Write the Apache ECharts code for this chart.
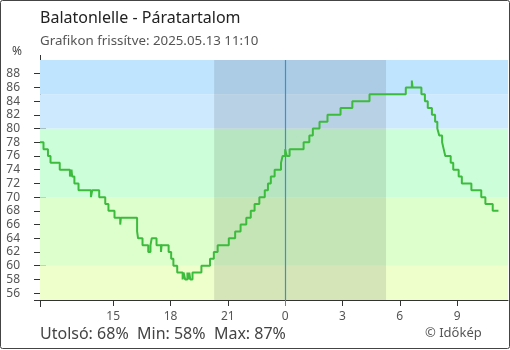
<!DOCTYPE html>
<html><head><meta charset="utf-8">
<script src="https://cdn.jsdelivr.net/npm/echarts@6/dist/echarts.min.js"></script>
<style>html,body{margin:0;padding:0;background:#fff}#c{width:510px;height:350px}</style>
</head><body><div id="c"></div>
<script>
// ---- data ----
const stationTitle = 'Balatonlelle - Páratartalom';
const updated = 'Grafikon frissítve: 2025.05.13 11:10';
const times = ['11:10','11:21','11:35','11:43','12:12','12:44','12:49','12:51','12:58','13:11',
  '13:50','13:54','14:16','14:35','14:45','15:04','15:22','15:24','16:15','16:18',
  '16:32','16:50','16:57','17:01','17:16','17:30','17:32','17:54','18:02','18:09',
  '18:21','18:38','18:41','18:46','18:53','18:56','18:59','19:02','19:09','19:37',
  '20:04','20:16','20:28','21:03','21:23','21:40','21:58','22:12','22:24','22:39',
  '22:56','23:06','23:15','23:27','23:47','23:52','0:00','0:05','0:14','0:58',
  '1:16','1:27','1:48','2:13','2:54','3:31','4:25','6:19','6:38','6:40',
  '7:08','7:19','7:28','7:41','7:51','7:58','8:04','8:13','8:18','8:23',
  '8:40','8:48','9:05','9:15','9:45','10:16','10:29','10:52','11:10'];
const values = [78,77,76,75,74,73,74,73,72,71,
  70,71,70,69,68,67,66,67,65,64,
  63,62,63,64,63,62,63,62,61,60,
  59,58,59,58,59,58,59,58,59,60,
  61,62,63,64,65,66,67,68,69,70,
  71,72,73,74,75,76,77,76,77,78,
  79,80,81,82,83,84,85,86,87,86,
  85,84,83,82,81,80,79,78,77,76,
  75,74,73,72,71,70,69,68,68];
const yTickValues = [56,58,60,62,64,66,68,70,72,74,76,78,80,82,84,86,88];
const xTickTimes = ['15:00','18:00','21:00','0:00','3:00','6:00','9:00'];
const bandLimits = [[55,60],[60,70],[70,80],[80,85],[85,90]];
const bandColors = ['#eeffcc','#ddffcc','#ccffd9','#cde9fe','#bfe4fe'];
const nightFrom = '20:17', nightTo = '5:17';
const nowTime = '0:00';
const axisStart = '11:10', axisEnd = '11:40';

// ---- helpers ----
function toMin(s){const [h,m]=s.split(':').map(Number);return h*60+m;}
function timeline(list){let out=[],prev=-1,off=0;for(const s of list){let m=toMin(s)+off;if(m<prev){off+=1440;m+=1440;}out.push(m);prev=m;}return out;}
const xs = timeline(times);
const data = xs.map((x,i)=>[x,values[i]]);
const xMin = toMin(axisStart), xMax = toMin(axisEnd)+1440;
const xTicks = timeline([axisStart].concat(xTickTimes)).slice(1);
const nowX = toMin(nowTime)+1440;
const nightX = [toMin(nightFrom), toMin(nightTo)+1440];
const lastV = values[values.length-1], minV = Math.min(...values), maxV = Math.max(...values);
const font = 'Noto Sans';
const fmt = v => String(Math.floor(((v%1440)+1440)%1440/60));

const chart = echarts.init(document.getElementById('c'), null, {renderer:'canvas'});
chart.setOption({
  animation:false,
  textStyle:{fontFamily:font},
  title:[
    {text:stationTitle,left:40,top:10,padding:0,textStyle:{fontFamily:font,fontSize:16,fontWeight:'normal',color:'#222'}},
    {text:updated,left:40,top:35,padding:0,textStyle:{fontFamily:font,fontSize:13.3,fontWeight:'normal',color:'#555'}},
    {text:'%',left:12,top:46,padding:0,textStyle:{fontFamily:font,fontSize:12,fontWeight:'normal',color:'#444'}},
    {text:'Utolsó: '+lastV+'%  Min: '+minV+'%  Max: '+maxV+'%',left:40,top:326,padding:0,textStyle:{fontFamily:font,fontSize:16,fontWeight:'normal',color:'#444'}},
    {text:'© Időkép',left:425,top:327,padding:0,textStyle:{fontFamily:font,fontSize:13,fontWeight:'normal',color:'#555'}}
  ],
  grid:{left:40,right:2,top:60,bottom:50},
  xAxis:[
    {type:'value',min:xMin,max:xMax,splitLine:{show:false},
      axisLine:{show:true,lineStyle:{color:'#333',width:1}},
      axisTick:{show:true,length:6,customValues:xTicks.filter(v=>v!==nowX),lineStyle:{color:'#333'}},
      axisLabel:{customValues:xTicks,formatter:fmt,color:'#555',fontSize:12,margin:11,fontFamily:font}},
    {type:'value',min:xMin,max:xMax,position:'bottom',splitLine:{show:false},axisLine:{show:false},
      axisTick:{show:true,inside:true,length:6,customValues:xTicks.filter(v=>v!==nowX),lineStyle:{color:'#333'}},
      axisLabel:{show:false}},
    {type:'value',min:xMin,max:xMax,position:'bottom',splitLine:{show:false},axisLine:{show:false},
      axisTick:{show:true,length:6,customValues:[nowX],lineStyle:{color:'#3b8fd9'}},
      axisLabel:{show:false}}
  ],
  yAxis:[
    {type:'value',min:55,max:90,splitLine:{show:false},
      axisLine:{show:true,lineStyle:{color:'#333',width:1}},
      axisTick:{show:true,length:6,customValues:yTickValues,lineStyle:{color:'#333'}},
      axisLabel:{customValues:yTickValues,color:'#555',fontSize:12,margin:20,fontFamily:font}},
    {type:'value',min:55,max:90,position:'left',splitLine:{show:false},axisLine:{show:false},
      axisTick:{show:true,inside:true,length:6,customValues:yTickValues,lineStyle:{color:'#333'}},
      axisLabel:{show:false}}
  ],
  graphic:[
    {type:'line',shape:{x1:40.5,y1:55,x2:40.5,y2:60},style:{stroke:'#333',lineWidth:1},z:100},
    {type:'line',shape:{x1:40.5,y1:300,x2:40.5,y2:307},style:{stroke:'#333',lineWidth:1},z:100},
    {type:'line',shape:{x1:34,y1:300.5,x2:40,y2:300.5},style:{stroke:'#333',lineWidth:1},z:100},
    {type:'rect',shape:{x:0.5,y:0.5,width:509,height:348,r:2},style:{fill:null,stroke:'#444',lineWidth:1},z:100}
  ],
  series:[
    {type:'line',data:[],silent:true,z:1,
      markArea:{silent:true,data:bandLimits.map((b,i)=>[{yAxis:b[0],itemStyle:{color:bandColors[i]}},{yAxis:b[1]}])}},
    {type:'line',data:[],silent:true,z:2,
      markArea:{silent:true,itemStyle:{color:'rgba(0,0,0,0.1)'},data:[[{xAxis:nightX[0]},{xAxis:nightX[1]}]]},
      markLine:{silent:true,symbol:'none',label:{show:false},lineStyle:{color:'#3b8fd9',width:1.2,type:'solid',opacity:1},data:[{xAxis:nowX}]}},
    {type:'line',data:data,step:'end',showSymbol:false,symbol:'none',z:5,
      lineStyle:{color:'#3dbb3d',width:2}}
  ]
});
</script></body></html>
